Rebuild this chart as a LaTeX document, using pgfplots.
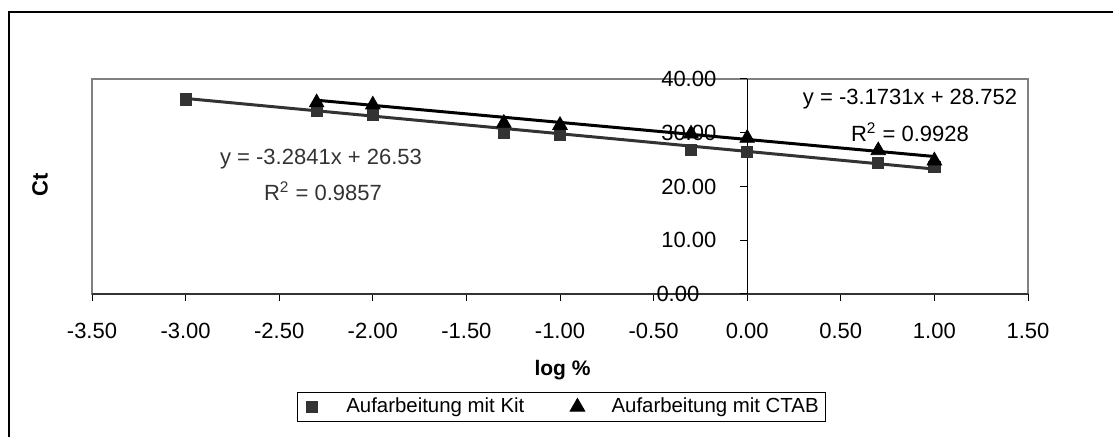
\documentclass[border=0pt]{standalone}
\usepackage{pgfplots}
\pgfplotsset{compat=1.18}
\usepackage{fontspec}
\setmainfont{Liberation Sans}
\definecolor{kitgray}{HTML}{333333}
\definecolor{boxgray}{HTML}{808080}
\begin{document}
\begin{tikzpicture}
\path[use as bounding box] (0pt,0pt) rectangle (556.5pt,218.5pt);
\draw[black, line width=0.6pt] (4.5pt,-5pt) -- (4.5pt,212.5pt) -- (565pt,212.5pt);
\begin{axis}[
  at={(46pt,71.5pt)}, anchor=south west,
  scale only axis, width=468pt, height=107.5pt,
  xmin=-3.5, xmax=1.5, ymin=0, ymax=40,
  axis x line=bottom, axis y line=middle,
  axis line style={-, black, line width=0.6pt},
  x axis line style={line width=0.9pt, kitgray},
  axis background/.style={draw=boxgray, line width=0.6pt},
  xtick={-3.5,-3,-2.5,-2,-1.5,-1,-0.5,0,0.5,1,1.5},
  ytick={10,20,30,40},
  extra y ticks={0},
  tick align=outside, major tick length=3.4pt,
  tick style={black, line width=0.5pt},
  /pgf/number format/assume math mode=true,
  /pgf/number format/.cd, fixed, fixed zerofill, precision=2, /pgfplots/.cd,
  tick label style={font=\fontsize{11}{13}\selectfont},
  xticklabel style={yshift=-7.5pt},
  yticklabel style={xshift=-8.5pt},
  extra y tick style={yticklabel style={xshift=-8.5pt}},
  clip=false,
  legend columns=2,
  legend image code/.code={\node[draw=none, fill=none, inner sep=0pt, minimum width=10pt, minimum height=1pt] at (-5pt,0pt) {}; \draw[#1] plot coordinates {(0pt,0pt)};},
  legend style={at={(0.5016,-0.5256)}, anchor=center, draw=black, line width=0.5pt,
     font=\fontsize{10.2}{12}\selectfont, inner ysep=2pt, inner xsep=2.5pt,
     nodes={inner sep=0.8pt},
     /tikz/every odd column/.append style={column sep=11pt},
     /tikz/every even column/.append style={column sep=21pt}},
  legend cell align=left,
]
\addplot[forget plot, kitgray, line width=1.5pt] coordinates {(-3,36.3823) (1,23.2459)};
\addplot[forget plot, black, line width=1.5pt] coordinates {(-2.3,36.0501) (1,25.5789)};
\addplot[only marks, mark=square*, mark size=2.8pt, kitgray, mark options={fill=kitgray, draw=kitgray}]
  coordinates {(-3,36.2) (-2.3,34.0) (-2,33.3) (-1.3,29.9) (-1,29.6) (-0.3,26.8) (0,26.4) (0.7,24.4) (1,23.7)};
\addlegendentry{Aufarbeitung mit Kit}
\addplot[only marks, mark=triangle*, mark size=4.2pt, black, mark options={fill=black, draw=black}]
  coordinates {(-2.3,35.6) (-2,35.2) (-1.3,31.8) (-1,31.4) (-0.3,29.8) (0,29.0) (0.7,26.7) (1,24.8)};
\addlegendentry{Aufarbeitung mit CTAB}
\end{axis}
\node[rotate=90, font=\bfseries\fontsize{11}{13}\selectfont] at (20pt,126pt) {Ct};
\node[font=\bfseries\fontsize{10.5}{12}\selectfont] at (281.25pt,33.5pt) {log \%};
\node[font=\fontsize{11}{13}\selectfont, text=kitgray] at (160.5pt,139pt) {y = -3.2841x + 26.53};
\node[font=\fontsize{11}{13}\selectfont, text=kitgray] at (161.5pt,123pt) {R\textsuperscript{2} = 0.9857};
\node[font=\fontsize{11}{13}\selectfont] at (455pt,169pt) {y = -3.1731x + 28.752};
\node[font=\fontsize{11}{13}\selectfont] at (455pt,152.5pt) {R\textsuperscript{2} = 0.9928};
\end{tikzpicture}
\end{document}
